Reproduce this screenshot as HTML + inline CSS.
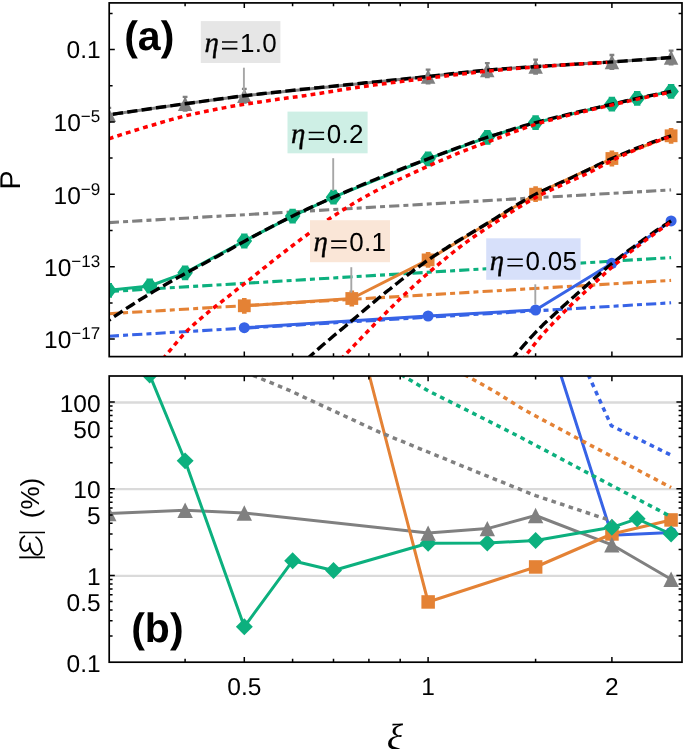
<!DOCTYPE html>
<html><head><meta charset="utf-8"><title>chart</title>
<style>
html,body{margin:0;padding:0;background:#fff;}
body{width:685px;height:749px;overflow:hidden;}
svg{display:block;will-change:transform;}
text{font-family:"Liberation Sans",sans-serif;fill:#000;text-rendering:geometricPrecision;}
.tk{font-size:24.5px;}
.sup{font-size:17px;}
.lab{font-size:26px;letter-spacing:0.25px;}
.eta{font-family:"Liberation Serif",serif;font-style:italic;font-size:29px;stroke:#000;stroke-width:0.35px;}
.tag{font-size:41px;font-weight:bold;}
.ylab{font-size:28.6px;}
.xi{font-family:"Liberation Serif",serif;font-style:italic;font-size:38px;}
.pc{font-size:26px;}
</style></head><body>
<svg width="685" height="749" viewBox="0 0 685 749">
<rect width="685" height="749" fill="#ffffff"/>
<defs>
<clipPath id="ca"><rect x="109.2" y="2.9" width="572.8" height="353.70000000000005"/></clipPath>
<clipPath id="cb"><rect x="109.2" y="376.0" width="572.8" height="286.20000000000005"/></clipPath>
</defs>
<g clip-path="url(#ca)">
<path d="M108.8 222.6 L671.1 189.9" fill="none" stroke="#808080" stroke-width="3.1" stroke-linecap="butt" stroke-linejoin="round" stroke-dasharray="10.2 4.1 5 4.1"/>
<path d="M108.8 291.5 L671.1 257.6" fill="none" stroke="#0cb07e" stroke-width="3.1" stroke-linecap="butt" stroke-linejoin="round" stroke-dasharray="10.2 4.1 5 4.1"/>
<path d="M108.8 313.7 L671.1 280.4" fill="none" stroke="#e48235" stroke-width="3.1" stroke-linecap="butt" stroke-linejoin="round" stroke-dasharray="10.2 4.1 5 4.1"/>
<path d="M108.8 336.2 L671.1 302.8" fill="none" stroke="#3763e6" stroke-width="3.1" stroke-linecap="butt" stroke-linejoin="round" stroke-dasharray="10.2 4.1 5 4.1"/>
<path d="M108.8 114.8 L185.1 103.8 L244.3 95.8 L428.1 76.5 L487.3 70.1 L535.6 66.6 L611.9 61.9 L671.1 57.5" fill="none" stroke="#808080" stroke-width="3.0" stroke-linecap="butt" stroke-linejoin="round"/>
<path d="M108.8 107.9 V121.7 M106.4 107.9 H111.2 M106.4 121.7 H111.2" stroke="#808080" stroke-width="2.3" fill="none"/>
<path d="M108.8 107.5 L101.6 122.0 L116.1 122.0 Z" fill="#808080"/>
<path d="M185.1 96.9 V110.7 M182.7 96.9 H187.5 M182.7 110.7 H187.5" stroke="#808080" stroke-width="2.3" fill="none"/>
<path d="M185.1 96.5 L177.9 111.0 L192.4 111.0 Z" fill="#808080"/>
<path d="M244.3 88.9 V102.7 M241.9 88.9 H246.7 M241.9 102.7 H246.7" stroke="#808080" stroke-width="2.3" fill="none"/>
<path d="M244.3 88.5 L237.1 103.0 L251.6 103.0 Z" fill="#808080"/>
<path d="M428.1 69.6 V83.4 M425.7 69.6 H430.5 M425.7 83.4 H430.5" stroke="#808080" stroke-width="2.3" fill="none"/>
<path d="M428.1 69.2 L420.9 83.8 L435.4 83.8 Z" fill="#808080"/>
<path d="M487.3 63.2 V77.0 M484.9 63.2 H489.7 M484.9 77.0 H489.7" stroke="#808080" stroke-width="2.3" fill="none"/>
<path d="M487.3 62.8 L480.0 77.3 L494.5 77.3 Z" fill="#808080"/>
<path d="M535.6 59.7 V73.5 M533.2 59.7 H538.0 M533.2 73.5 H538.0" stroke="#808080" stroke-width="2.3" fill="none"/>
<path d="M535.6 59.3 L528.4 73.8 L542.9 73.8 Z" fill="#808080"/>
<path d="M611.9 55.0 V68.8 M609.5 55.0 H614.3 M609.5 68.8 H614.3" stroke="#808080" stroke-width="2.3" fill="none"/>
<path d="M611.9 54.6 L604.7 69.2 L619.2 69.2 Z" fill="#808080"/>
<path d="M671.1 50.6 V64.4 M668.7 50.6 H673.5 M668.7 64.4 H673.5" stroke="#808080" stroke-width="2.3" fill="none"/>
<path d="M671.1 50.2 L663.8 64.8 L678.3 64.8 Z" fill="#808080"/>
<path d="M108.8 290.3 L149.7 286.0 L185.1 272.8 L244.3 241.0 L292.6 216.1 L333.5 197.2 L428.1 158.8 L487.3 137.3 L535.6 122.6 L611.9 104.2 L637.2 98.4 L671.1 91.4" fill="none" stroke="#0cb07e" stroke-width="3.0" stroke-linecap="butt" stroke-linejoin="round"/>
<path d="M101.0 290.3 L105.6 284.1 L105.6 282.9 L112.0 282.9 L112.0 284.1 L116.6 290.3 L112.0 296.5 L112.0 297.7 L105.6 297.7 L105.6 296.5 Z" fill="#0cb07e"/>
<path d="M141.9 286.0 L146.5 279.8 L146.5 278.6 L152.9 278.6 L152.9 279.8 L157.5 286.0 L152.9 292.2 L152.9 293.4 L146.5 293.4 L146.5 292.2 Z" fill="#0cb07e"/>
<path d="M177.3 272.8 L181.9 266.6 L181.9 265.4 L188.3 265.4 L188.3 266.6 L192.9 272.8 L188.3 279.0 L188.3 280.2 L181.9 280.2 L181.9 279.0 Z" fill="#0cb07e"/>
<path d="M236.5 241.0 L241.1 234.8 L241.1 233.6 L247.5 233.6 L247.5 234.8 L252.1 241.0 L247.5 247.2 L247.5 248.4 L241.1 248.4 L241.1 247.2 Z" fill="#0cb07e"/>
<path d="M284.8 216.1 L289.4 209.9 L289.4 208.7 L295.8 208.7 L295.8 209.9 L300.4 216.1 L295.8 222.3 L295.8 223.5 L289.4 223.5 L289.4 222.3 Z" fill="#0cb07e"/>
<path d="M325.7 197.2 L330.3 191.0 L330.3 189.8 L336.7 189.8 L336.7 191.0 L341.3 197.2 L336.7 203.4 L336.7 204.6 L330.3 204.6 L330.3 203.4 Z" fill="#0cb07e"/>
<path d="M420.3 158.8 L424.9 152.6 L424.9 151.4 L431.3 151.4 L431.3 152.6 L435.9 158.8 L431.3 165.0 L431.3 166.2 L424.9 166.2 L424.9 165.0 Z" fill="#0cb07e"/>
<path d="M479.5 137.3 L484.1 131.1 L484.1 129.9 L490.5 129.9 L490.5 131.1 L495.1 137.3 L490.5 143.5 L490.5 144.7 L484.1 144.7 L484.1 143.5 Z" fill="#0cb07e"/>
<path d="M527.8 122.6 L532.4 116.4 L532.4 115.2 L538.8 115.2 L538.8 116.4 L543.4 122.6 L538.8 128.8 L538.8 130.0 L532.4 130.0 L532.4 128.8 Z" fill="#0cb07e"/>
<path d="M604.1 104.2 L608.7 98.0 L608.7 96.8 L615.1 96.8 L615.1 98.0 L619.7 104.2 L615.1 110.4 L615.1 111.6 L608.7 111.6 L608.7 110.4 Z" fill="#0cb07e"/>
<path d="M629.4 98.4 L634.0 92.2 L634.0 91.0 L640.4 91.0 L640.4 92.2 L645.0 98.4 L640.4 104.6 L640.4 105.8 L634.0 105.8 L634.0 104.6 Z" fill="#0cb07e"/>
<path d="M663.3 91.4 L667.9 85.2 L667.9 84.0 L674.3 84.0 L674.3 85.2 L678.9 91.4 L674.3 97.6 L674.3 98.8 L667.9 98.8 L667.9 97.6 Z" fill="#0cb07e"/>
<path d="M244.3 305.8 L351.8 298.5 L428.1 259.9 L535.6 194.2 L611.9 158.5 L671.1 135.8" fill="none" stroke="#e48235" stroke-width="3.0" stroke-linecap="butt" stroke-linejoin="round"/>
<path d="M244.3 298.9 V312.7 M242.0 298.9 H246.6 M242.0 312.7 H246.6" stroke="#e48235" stroke-width="2.0" fill="none"/>
<rect x="237.9" y="299.4" width="12.8" height="12.8" fill="#e48235"/>
<path d="M351.8 291.6 V305.4 M349.5 291.6 H354.1 M349.5 305.4 H354.1" stroke="#e48235" stroke-width="2.0" fill="none"/>
<rect x="345.4" y="292.1" width="12.8" height="12.8" fill="#e48235"/>
<path d="M428.1 253.0 V266.8 M425.8 253.0 H430.4 M425.8 266.8 H430.4" stroke="#e48235" stroke-width="2.0" fill="none"/>
<rect x="421.7" y="253.5" width="12.8" height="12.8" fill="#e48235"/>
<path d="M535.6 187.3 V201.1 M533.3 187.3 H537.9 M533.3 201.1 H537.9" stroke="#e48235" stroke-width="2.0" fill="none"/>
<rect x="529.2" y="187.8" width="12.8" height="12.8" fill="#e48235"/>
<path d="M611.9 151.6 V165.4 M609.6 151.6 H614.2 M609.6 165.4 H614.2" stroke="#e48235" stroke-width="2.0" fill="none"/>
<rect x="605.5" y="152.1" width="12.8" height="12.8" fill="#e48235"/>
<path d="M671.1 128.9 V142.7 M668.8 128.9 H673.4 M668.8 142.7 H673.4" stroke="#e48235" stroke-width="2.0" fill="none"/>
<rect x="664.7" y="129.4" width="12.8" height="12.8" fill="#e48235"/>
<path d="M244.3 327.7 L428.1 316.0 L535.6 310.0 L611.9 263.3 L671.1 220.9" fill="none" stroke="#3763e6" stroke-width="3.0" stroke-linecap="butt" stroke-linejoin="round"/>
<circle cx="244.3" cy="327.7" r="5.5" fill="#3763e6"/>
<circle cx="428.1" cy="316.0" r="5.5" fill="#3763e6"/>
<circle cx="535.6" cy="310.0" r="5.5" fill="#3763e6"/>
<circle cx="611.9" cy="263.3" r="5.5" fill="#3763e6"/>
<circle cx="671.1" cy="220.9" r="5.5" fill="#3763e6"/>
<path d="M671.1 57.5 L661.5 58.3 L652.0 59.0 L642.5 59.7 L633.0 60.4 L623.4 61.1 L613.9 61.8 L604.4 62.4 L594.8 63.0 L585.3 63.6 L575.8 64.1 L566.2 64.7 L556.7 65.3 L547.2 65.9 L537.7 66.5 L528.1 67.1 L518.6 67.7 L509.1 68.4 L499.5 69.1 L490.0 69.9 L480.5 70.7 L471.0 71.7 L461.4 72.7 L451.9 73.8 L442.4 74.9 L432.8 76.0 L423.3 77.0 L413.8 78.0 L404.3 79.0 L394.7 80.0 L385.2 80.9 L375.7 81.9 L366.1 82.8 L356.6 83.8 L347.1 84.7 L337.5 85.7 L328.0 86.7 L318.5 87.6 L309.0 88.6 L299.4 89.6 L289.9 90.6 L280.4 91.7 L270.8 92.7 L261.3 93.8 L251.8 94.9 L242.3 96.0 L232.7 97.2 L223.2 98.5 L213.7 99.8 L204.1 101.1 L194.6 102.5 L185.1 103.8 L175.6 105.1 L166.0 106.5 L156.5 107.8 L147.0 109.2 L137.4 110.6 L127.9 112.0 L118.4 113.4 L108.8 114.8" fill="none" stroke="#000000" stroke-width="3.4" stroke-linecap="butt" stroke-linejoin="round" stroke-dasharray="10.3 4.2"/>
<path d="M671.1 91.4 L665.4 92.5 L659.7 93.7 L654.1 94.8 L648.4 96.0 L642.7 97.2 L637.0 98.4 L631.3 99.7 L625.7 101.0 L620.0 102.3 L614.3 103.6 L608.6 105.0 L602.9 106.3 L597.3 107.6 L591.6 108.9 L585.9 110.2 L580.2 111.5 L574.5 112.9 L568.9 114.2 L563.2 115.6 L557.5 116.9 L551.8 118.4 L546.1 119.8 L540.5 121.3 L534.8 122.8 L529.1 124.4 L523.4 126.0 L517.7 127.7 L512.1 129.4 L506.4 131.2 L500.7 133.0 L495.0 134.8 L489.3 136.6 L483.7 138.5 L478.0 140.4 L472.3 142.4 L466.6 144.5 L460.9 146.5 L455.3 148.6 L449.6 150.7 L443.9 152.8 L438.2 155.0 L432.5 157.1 L426.9 159.3 L421.2 161.4 L415.5 163.6 L409.8 165.7 L404.1 167.9 L398.5 170.1 L392.8 172.4 L387.1 174.6 L381.4 176.9 L375.8 179.2 L370.1 181.5 L364.4 183.9 L358.7 186.3 L353.0 188.7 L347.4 191.1 L341.7 193.6 L336.0 196.1 L330.3 198.6 L324.6 201.2 L319.0 203.7 L313.3 206.3 L307.6 208.9 L301.9 211.6 L296.2 214.3 L290.6 217.1 L284.9 219.9 L279.2 222.8 L273.5 225.7 L267.8 228.7 L262.2 231.7 L256.5 234.7 L250.8 237.8 L245.1 240.9 L239.4 244.0 L233.8 247.2 L228.1 250.5 L222.4 253.6 L216.7 256.7 L211.0 259.7 L205.4 262.7 L199.7 265.7 L194.0 268.8 L188.3 271.8 L182.6 275.0 L177.0 278.1 L171.3 281.3 L165.6 284.5 L159.9 287.8 L154.2 291.1 L148.6 294.5 L142.9 298.0 L137.2 301.5 L131.5 305.2 L125.8 308.8 L120.2 312.6 L114.5 316.4 L108.8 320.3" fill="none" stroke="#000000" stroke-width="3.4" stroke-linecap="butt" stroke-linejoin="round" stroke-dasharray="10.3 4.2"/>
<path d="M671.1 135.8 L667.4 137.0 L663.6 138.3 L659.9 139.6 L656.1 140.9 L652.4 142.2 L648.6 143.6 L644.9 145.0 L641.1 146.5 L637.4 147.9 L633.6 149.4 L629.9 150.9 L626.1 152.5 L622.4 154.0 L618.6 155.6 L614.9 157.2 L611.1 158.8 L607.4 160.5 L603.6 162.3 L599.9 164.1 L596.1 165.9 L592.4 167.8 L588.6 169.6 L584.9 171.4 L581.1 173.2 L577.4 174.9 L573.6 176.7 L569.9 178.5 L566.1 180.2 L562.4 181.9 L558.6 183.6 L554.9 185.3 L551.1 186.9 L547.4 188.6 L543.7 190.3 L539.9 192.1 L536.2 193.9 L532.4 195.9 L528.7 197.9 L524.9 200.1 L521.2 202.2 L517.4 204.5 L513.7 206.8 L509.9 209.1 L506.2 211.5 L502.4 213.9 L498.7 216.2 L494.9 218.6 L491.2 220.9 L487.4 223.2 L483.7 225.5 L479.9 227.8 L476.2 230.0 L472.4 232.3 L468.7 234.5 L464.9 236.7 L461.2 239.0 L457.4 241.3 L453.7 243.5 L449.9 245.8 L446.2 248.2 L442.4 250.5 L438.7 252.9 L434.9 255.4 L431.2 257.9 L427.4 260.4 L423.7 263.1 L420.0 265.8 L416.2 268.5 L412.5 271.3 L408.7 274.2 L405.0 277.1 L401.2 280.0 L397.5 283.0 L393.7 286.0 L390.0 289.0 L386.2 291.9 L382.5 295.0 L378.7 298.0 L375.0 301.1 L371.2 304.3 L367.5 307.4 L363.7 310.6 L360.0 313.8 L356.2 317.0 L352.5 320.1 L348.7 323.3 L345.0 326.5 L341.2 329.6 L337.5 332.7 L333.7 335.8 L330.0 339.0 L326.2 342.1 L322.5 345.3 L318.7 348.6 L315.0 351.9 L311.2 355.2 L307.5 358.7 L303.7 362.3 L300.0 366.0" fill="none" stroke="#000000" stroke-width="3.4" stroke-linecap="butt" stroke-linejoin="round" stroke-dasharray="10.3 4.2"/>
<path d="M671.1 220.9 L669.0 222.2 L666.9 223.6 L664.8 224.9 L662.7 226.3 L660.6 227.7 L658.5 229.1 L656.4 230.5 L654.3 231.9 L652.2 233.4 L650.1 234.8 L648.0 236.3 L645.9 237.8 L643.8 239.3 L641.7 240.9 L639.6 242.4 L637.5 243.9 L635.4 245.5 L633.3 247.1 L631.2 248.6 L629.0 250.2 L626.9 251.8 L624.8 253.5 L622.7 255.1 L620.6 256.7 L618.5 258.4 L616.4 260.0 L614.3 261.7 L612.2 263.3 L610.1 265.0 L608.0 266.7 L605.9 268.5 L603.8 270.3 L601.7 272.1 L599.6 273.9 L597.5 275.8 L595.4 277.6 L593.3 279.5 L591.2 281.4 L589.1 283.2 L587.0 285.1 L584.9 286.9 L582.8 288.8 L580.7 290.6 L578.6 292.4 L576.5 294.3 L574.4 296.2 L572.3 298.0 L570.2 299.9 L568.1 301.8 L566.0 303.7 L563.9 305.6 L561.8 307.5 L559.7 309.4 L557.6 311.4 L555.5 313.3 L553.4 315.2 L551.3 317.2 L549.2 319.1 L547.1 321.1 L544.9 323.1 L542.8 325.1 L540.7 327.2 L538.6 329.3 L536.5 331.4 L534.4 333.6 L532.3 335.8 L530.2 338.1 L528.1 340.4 L526.0 342.8 L523.9 345.2 L521.8 347.6 L519.7 350.0 L517.6 352.5 L515.5 354.9 L513.4 357.3 L511.3 359.7 L509.2 362.1 L507.1 364.6 L505.0 367.0" fill="none" stroke="#000000" stroke-width="3.4" stroke-linecap="butt" stroke-linejoin="round" stroke-dasharray="10.3 4.2"/>
<path d="M108.8 138.8 L115.1 136.7 L121.4 134.7 L127.7 132.7 L134.0 130.7 L140.4 128.7 L146.7 126.8 L153.0 125.0 L159.3 123.1 L165.6 121.2 L171.9 119.4 L178.2 117.7 L184.5 116.1 L190.8 114.6 L197.1 113.2 L203.5 111.9 L209.8 110.6 L216.1 109.3 L222.4 108.1 L228.7 106.9 L235.0 105.8 L241.3 104.8 L247.6 103.8 L253.9 102.8 L260.2 101.9 L266.6 100.9 L272.9 100.0 L279.2 99.1 L285.5 98.3 L291.8 97.4 L298.1 96.6 L304.4 95.7 L310.7 94.7 L317.0 93.8 L323.3 92.8 L329.7 91.7 L336.0 90.7 L342.3 89.7 L348.6 88.7 L354.9 87.7 L361.2 86.8 L367.5 85.9 L373.8 85.1 L380.1 84.2 L386.4 83.4 L392.8 82.6 L399.1 81.8 L405.4 81.0 L411.7 80.2 L418.0 79.4 L424.3 78.7 L430.6 77.9 L436.9 77.1 L443.2 76.3 L449.5 75.5 L455.9 74.7 L462.2 74.0 L468.5 73.2 L474.8 72.5 L481.1 71.8 L487.4 71.2 L493.7 70.6 L500.0 70.0 L506.3 69.4 L512.6 68.8 L519.0 68.3 L525.3 67.8 L531.6 67.3 L537.9 66.8 L544.2 66.4 L550.5 65.9 L556.8 65.5 L563.1 65.0 L569.4 64.6 L575.7 64.2 L582.1 63.8 L588.4 63.4 L594.7 63.1 L601.0 62.7 L607.3 62.4" fill="none" stroke="#ff0000" stroke-width="3.5" stroke-linecap="butt" stroke-linejoin="round" stroke-dasharray="4.8 4.2"/>
<path d="M157.0 366.0 L162.2 359.8 L167.4 353.6 L172.6 347.3 L177.8 341.0 L183.0 335.1 L188.2 329.8 L193.4 324.9 L198.5 320.4 L203.7 316.0 L208.9 311.7 L214.1 307.5 L219.3 303.5 L224.5 299.4 L229.7 295.3 L234.9 291.2 L240.1 287.1 L245.3 283.0 L250.5 278.8 L255.7 274.6 L260.9 270.4 L266.1 266.3 L271.2 262.1 L276.4 258.0 L281.6 254.0 L286.8 250.0 L292.0 246.0 L297.2 242.1 L302.4 238.2 L307.6 234.4 L312.8 230.5 L318.0 226.7 L323.2 223.0 L328.4 219.4 L333.6 216.0 L338.8 212.6 L343.9 209.4 L349.1 206.2 L354.3 203.0 L359.5 200.0 L364.7 197.0 L369.9 194.1 L375.1 191.3 L380.3 188.6 L385.5 186.0 L390.7 183.4 L395.9 180.9 L401.1 178.5 L406.3 176.1 L411.5 173.7 L416.6 171.3 L421.8 169.0 L427.0 166.7 L432.2 164.3 L437.4 162.0 L442.6 159.8 L447.8 157.6 L453.0 155.4 L458.2 153.2 L463.4 151.1 L468.6 149.1 L473.8 147.1 L479.0 145.2 L484.2 143.3 L489.3 141.4 L494.5 139.5 L499.7 137.5 L504.9 135.5 L510.1 133.4 L515.3 131.4 L520.5 129.5 L525.7 127.6 L530.9 125.8 L536.1 124.2 L541.3 122.6 L546.5 121.1 L551.7 119.7 L556.9 118.3 L562.0 116.9 L567.2 115.6 L572.4 114.3 L577.6 113.0 L582.8 111.8 L588.0 110.6 L593.2 109.3 L598.4 108.1 L603.6 106.9 L608.8 105.7 L614.0 104.5 L619.2 103.3 L624.4 102.1 L629.6 100.9 L634.7 99.8 L639.9 98.6 L645.1 97.5 L650.3 96.4 L655.5 95.3 L660.7 94.2 L665.9 93.1 L671.1 92.0" fill="none" stroke="#ff0000" stroke-width="3.5" stroke-linecap="butt" stroke-linejoin="round" stroke-dasharray="4.8 4.2"/>
<path d="M334.5 366.0 L337.9 362.4 L341.3 358.8 L344.7 355.3 L348.1 351.7 L351.5 348.2 L354.9 344.6 L358.3 341.1 L361.7 337.5 L365.1 334.0 L368.5 330.5 L371.9 327.0 L375.3 323.5 L378.7 320.1 L382.1 316.7 L385.5 313.2 L388.9 309.8 L392.3 306.4 L395.7 303.1 L399.1 299.7 L402.5 296.5 L405.9 293.2 L409.3 290.1 L412.7 286.9 L416.1 283.8 L419.5 280.8 L422.9 277.7 L426.3 274.7 L429.7 271.8 L433.1 268.9 L436.5 266.0 L439.9 263.1 L443.3 260.3 L446.7 257.5 L450.1 254.7 L453.5 252.0 L456.9 249.3 L460.3 246.7 L463.7 244.1 L467.1 241.6 L470.5 239.2 L473.9 236.8 L477.3 234.5 L480.7 232.2 L484.1 229.9 L487.5 227.7 L490.9 225.4 L494.3 223.2 L497.7 220.9 L501.1 218.7 L504.5 216.5 L507.9 214.3 L511.3 212.1 L514.7 209.9 L518.1 207.8 L521.5 205.7 L524.9 203.7 L528.3 201.7 L531.7 199.7 L535.1 197.9 L538.5 196.1 L541.9 194.3 L545.3 192.6 L548.7 191.0 L552.1 189.4 L555.5 187.8 L558.9 186.3 L562.3 184.8 L565.7 183.2 L569.1 181.7 L572.5 180.2 L575.9 178.7 L579.3 177.2 L582.7 175.6 L586.1 174.0 L589.5 172.3 L592.9 170.7 L596.3 168.9 L599.7 167.0 L603.1 165.1 L606.5 163.2 L609.9 161.5 L613.3 159.8 L616.7 158.2 L620.1 156.7 L623.5 155.1 L626.9 153.6 L630.3 152.1 L633.7 150.6 L637.1 149.1 L640.5 147.7 L643.9 146.3 L647.3 144.9 L650.7 143.6 L654.1 142.3 L657.5 141.1 L660.9 139.9 L664.3 138.7 L667.7 137.6 L671.1 136.5" fill="none" stroke="#ff0000" stroke-width="3.5" stroke-linecap="butt" stroke-linejoin="round" stroke-dasharray="4.8 4.2"/>
<path d="M515.5 367.0 L517.5 364.9 L519.4 362.7 L521.4 360.5 L523.4 358.3 L525.3 356.0 L527.3 353.5 L529.3 351.0 L531.3 348.5 L533.2 345.9 L535.2 343.4 L537.2 340.9 L539.1 338.5 L541.1 336.2 L543.1 334.0 L545.0 331.8 L547.0 329.6 L549.0 327.5 L551.0 325.4 L552.9 323.3 L554.9 321.3 L556.9 319.3 L558.8 317.3 L560.8 315.3 L562.8 313.3 L564.7 311.3 L566.7 309.4 L568.7 307.4 L570.6 305.5 L572.6 303.6 L574.6 301.7 L576.6 299.8 L578.5 298.0 L580.5 296.1 L582.5 294.3 L584.4 292.4 L586.4 290.6 L588.4 288.8 L590.3 286.9 L592.3 285.1 L594.3 283.3 L596.3 281.5 L598.2 279.6 L600.2 277.8 L602.2 276.0 L604.1 274.1 L606.1 272.4 L608.1 270.6 L610.0 268.8 L612.0 267.1 L614.0 265.4 L616.0 263.7 L617.9 262.1 L619.9 260.4 L621.9 258.8 L623.8 257.2 L625.8 255.6 L627.8 254.0 L629.7 252.5 L631.7 250.9 L633.7 249.4 L635.6 247.8 L637.6 246.3 L639.6 244.8 L641.6 243.3 L643.5 241.8 L645.5 240.3 L647.5 238.9 L649.4 237.4 L651.4 236.0 L653.4 234.5 L655.3 233.1 L657.3 231.7 L659.3 230.2 L661.3 228.8 L663.2 227.4 L665.2 226.1 L667.2 224.7 L669.1 223.3 L671.1 222.0" fill="none" stroke="#ff0000" stroke-width="3.5" stroke-linecap="butt" stroke-linejoin="round" stroke-dasharray="4.8 4.2"/>
</g>
<path d="M243.9 67.7 V93.4" stroke="#a6a6a6" stroke-width="1.9" fill="none"/>
<rect x="200.8" y="21.1" width="79.6" height="41.9" fill="#e6e6e6"/>
<text x="204.4" y="52.3" class="eta">η</text>
<path d="M222.0 42.0 h15.4 M222.0 48.6 h15.4" stroke="#000" stroke-width="1.6" fill="none"/>
<text x="240.1" y="52.3" class="lab">1.0</text>
<path d="M333.2 158.2 V191" stroke="#a6a6a6" stroke-width="1.9" fill="none"/>
<rect x="287.5" y="111.6" width="80.1" height="41.7" fill="#ceefe5"/>
<text x="291.1" y="142.8" class="eta">η</text>
<path d="M308.7 132.5 h15.4 M308.7 139.1 h15.4" stroke="#000" stroke-width="1.6" fill="none"/>
<text x="326.8" y="142.8" class="lab">0.2</text>
<path d="M351.3 267.2 V292.6" stroke="#a6a6a6" stroke-width="1.9" fill="none"/>
<rect x="310.0" y="220.2" width="80.0" height="42.0" fill="#fae6d7"/>
<text x="313.6" y="251.4" class="eta">η</text>
<path d="M331.2 241.1 h15.4 M331.2 247.7 h15.4" stroke="#000" stroke-width="1.6" fill="none"/>
<text x="349.3" y="251.4" class="lab">0.1</text>
<path d="M535.3 284.3 V304.5" stroke="#a6a6a6" stroke-width="1.9" fill="none"/>
<rect x="486.2" y="238.3" width="94.4" height="41.5" fill="#d7e0fa"/>
<text x="489.8" y="269.5" class="eta">η</text>
<path d="M507.4 259.2 h15.4 M507.4 265.8 h15.4" stroke="#000" stroke-width="1.6" fill="none"/>
<text x="525.5" y="269.5" class="lab">0.05</text>
<path d="M109.2 402.5 H682.0" stroke="#dadada" stroke-width="2.3" fill="none"/>
<path d="M109.2 489.2 H682.0" stroke="#dadada" stroke-width="2.3" fill="none"/>
<path d="M109.2 575.9 H682.0" stroke="#dadada" stroke-width="2.3" fill="none"/>
<g clip-path="url(#cb)">
<path d="M108.8 513.5 L185.1 510.2 L244.3 513.0 L428.1 533.1 L487.3 528.6 L535.6 515.5 L611.9 544.8 L671.1 579.3" fill="none" stroke="#808080" stroke-width="3.0" stroke-linecap="butt" stroke-linejoin="round"/>
<path d="M535.6 296.0 L611.9 535.3 L671.1 532.6" fill="none" stroke="#3763e6" stroke-width="3.0" stroke-linecap="butt" stroke-linejoin="round"/>
<path d="M351.8 308.0 L428.1 602.0 L535.6 567.0 L611.9 534.0 L671.1 520.0" fill="none" stroke="#e48235" stroke-width="3.0" stroke-linecap="butt" stroke-linejoin="round"/>
<path d="M108.8 250.0 L149.7 375.0 L185.1 460.8 L244.3 626.8 L292.6 560.8 L333.5 570.5 L428.1 543.3 L487.3 543.0 L535.6 540.4 L611.9 527.3 L637.2 518.8 L671.1 534.0" fill="none" stroke="#0cb07e" stroke-width="3.0" stroke-linecap="butt" stroke-linejoin="round"/>
<circle cx="535.6" cy="296.0" r="5.7" fill="#3763e6"/>
<circle cx="611.9" cy="535.3" r="5.7" fill="#3763e6"/>
<circle cx="671.1" cy="532.6" r="5.7" fill="#3763e6"/>
<rect x="345.1" y="301.2" width="13.5" height="13.5" fill="#e48235"/>
<rect x="421.4" y="595.2" width="13.5" height="13.5" fill="#e48235"/>
<rect x="528.9" y="560.2" width="13.5" height="13.5" fill="#e48235"/>
<rect x="605.2" y="527.2" width="13.5" height="13.5" fill="#e48235"/>
<rect x="664.3" y="513.2" width="13.5" height="13.5" fill="#e48235"/>
<path d="M108.8 241.6 L117.3 250.0 L108.8 258.4 L100.4 250.0 Z" fill="#0cb07e"/>
<path d="M149.7 366.6 L158.2 375.0 L149.7 383.4 L141.3 375.0 Z" fill="#0cb07e"/>
<path d="M185.1 452.4 L193.6 460.8 L185.1 469.2 L176.7 460.8 Z" fill="#0cb07e"/>
<path d="M244.3 618.3 L252.8 626.8 L244.3 635.2 L235.9 626.8 Z" fill="#0cb07e"/>
<path d="M292.6 552.3 L301.1 560.8 L292.6 569.2 L284.2 560.8 Z" fill="#0cb07e"/>
<path d="M333.5 562.0 L342.0 570.5 L333.5 579.0 L325.1 570.5 Z" fill="#0cb07e"/>
<path d="M428.1 534.8 L436.6 543.3 L428.1 551.8 L419.7 543.3 Z" fill="#0cb07e"/>
<path d="M487.3 534.5 L495.7 543.0 L487.3 551.5 L478.8 543.0 Z" fill="#0cb07e"/>
<path d="M535.6 531.9 L544.1 540.4 L535.6 548.9 L527.2 540.4 Z" fill="#0cb07e"/>
<path d="M611.9 518.8 L620.4 527.3 L611.9 535.8 L603.5 527.3 Z" fill="#0cb07e"/>
<path d="M637.2 510.3 L645.6 518.8 L637.2 527.2 L628.7 518.8 Z" fill="#0cb07e"/>
<path d="M671.1 525.5 L679.5 534.0 L671.1 542.5 L662.6 534.0 Z" fill="#0cb07e"/>
<path d="M108.8 505.8 L101.1 521.2 L116.5 521.2 Z" fill="#808080"/>
<path d="M185.1 502.5 L177.4 517.9 L192.8 517.9 Z" fill="#808080"/>
<path d="M244.3 505.3 L236.6 520.7 L252.0 520.7 Z" fill="#808080"/>
<path d="M428.1 525.4 L420.4 540.8 L435.8 540.8 Z" fill="#808080"/>
<path d="M487.3 520.9 L479.6 536.3 L495.0 536.3 Z" fill="#808080"/>
<path d="M535.6 507.8 L527.9 523.2 L543.3 523.2 Z" fill="#808080"/>
<path d="M611.9 537.1 L604.2 552.5 L619.6 552.5 Z" fill="#808080"/>
<path d="M671.1 571.6 L663.4 587.0 L678.8 587.0 Z" fill="#808080"/>
<path d="M588.2 374.6 L611.2 425.6 L671.1 455.2" fill="none" stroke="#3763e6" stroke-width="3.5" stroke-linecap="butt" stroke-linejoin="round" stroke-dasharray="4.6 4.4"/>
<path d="M464.4 374.6 L494.0 391.0 L521.2 408.0 L535.6 416.0 L580.2 439.8 L611.9 456.5 L671.1 487.5" fill="none" stroke="#e48235" stroke-width="3.5" stroke-linecap="butt" stroke-linejoin="round" stroke-dasharray="4.6 4.4"/>
<path d="M401.0 374.6 L428.2 390.8 L467.6 410.5 L520.0 437.0 L589.8 474.0 L671.1 516.7" fill="none" stroke="#0cb07e" stroke-width="3.5" stroke-linecap="butt" stroke-linejoin="round" stroke-dasharray="4.6 4.4"/>
<path d="M253.0 375.3 L290.0 390.7 L380.0 432.4 L428.1 452.0 L487.3 476.2 L535.6 495.6 L611.9 521.0" fill="none" stroke="#808080" stroke-width="3.5" stroke-linecap="butt" stroke-linejoin="round" stroke-dasharray="4.6 4.4"/>
</g>
<path d="M244.3 2.9 v5.2 M244.3 356.6 v-5.2 M428.1 2.9 v5.2 M428.1 356.6 v-5.2 M611.9 2.9 v5.2 M611.9 356.6 v-5.2 M185.1 2.9 v3.4 M185.1 356.6 v-3.4 M292.6 2.9 v3.4 M292.6 356.6 v-3.4 M333.5 2.9 v3.4 M333.5 356.6 v-3.4 M368.9 2.9 v3.4 M368.9 356.6 v-3.4 M400.2 2.9 v3.4 M400.2 356.6 v-3.4 M535.6 2.9 v3.4 M535.6 356.6 v-3.4" stroke="#000" stroke-width="1.5" fill="none"/>
<path d="M244.3 376.0 v5.2 M244.3 662.2 v-5.2 M428.1 376.0 v5.2 M428.1 662.2 v-5.2 M611.9 376.0 v5.2 M611.9 662.2 v-5.2 M185.1 376.0 v3.4 M185.1 662.2 v-3.4 M292.6 376.0 v3.4 M292.6 662.2 v-3.4 M333.5 376.0 v3.4 M333.5 662.2 v-3.4 M368.9 376.0 v3.4 M368.9 662.2 v-3.4 M400.2 376.0 v3.4 M400.2 662.2 v-3.4 M535.6 376.0 v3.4 M535.6 662.2 v-3.4" stroke="#000" stroke-width="1.5" fill="none"/>
<path d="M109.2 49.6 h5.6 M682.0 49.6 h-5.6 M109.2 122.0 h5.6 M682.0 122.0 h-5.6 M109.2 194.3 h5.6 M682.0 194.3 h-5.6 M109.2 266.7 h5.6 M682.0 266.7 h-5.6 M109.2 339.0 h5.6 M682.0 339.0 h-5.6 M109.2 13.4 h3.4 M682.0 13.4 h-3.4 M109.2 85.8 h3.4 M682.0 85.8 h-3.4 M109.2 158.1 h3.4 M682.0 158.1 h-3.4 M109.2 230.5 h3.4 M682.0 230.5 h-3.4 M109.2 302.9 h3.4 M682.0 302.9 h-3.4" stroke="#000" stroke-width="1.5" fill="none"/>
<path d="M109.2 402.1 h5.6 M682.0 402.1 h-5.6 M109.2 488.8 h5.6 M682.0 488.8 h-5.6 M109.2 575.5 h5.6 M682.0 575.5 h-5.6 M109.2 636.1 h3.4 M682.0 636.1 h-3.4 M109.2 620.8 h3.4 M682.0 620.8 h-3.4 M109.2 610.0 h3.4 M682.0 610.0 h-3.4 M109.2 601.6 h3.4 M682.0 601.6 h-3.4 M109.2 594.7 h3.4 M682.0 594.7 h-3.4 M109.2 588.9 h3.4 M682.0 588.9 h-3.4 M109.2 583.9 h3.4 M682.0 583.9 h-3.4 M109.2 579.5 h3.4 M682.0 579.5 h-3.4 M109.2 549.4 h3.4 M682.0 549.4 h-3.4 M109.2 534.1 h3.4 M682.0 534.1 h-3.4 M109.2 523.3 h3.4 M682.0 523.3 h-3.4 M109.2 514.9 h3.4 M682.0 514.9 h-3.4 M109.2 508.0 h3.4 M682.0 508.0 h-3.4 M109.2 502.2 h3.4 M682.0 502.2 h-3.4 M109.2 497.2 h3.4 M682.0 497.2 h-3.4 M109.2 492.8 h3.4 M682.0 492.8 h-3.4 M109.2 462.7 h3.4 M682.0 462.7 h-3.4 M109.2 447.4 h3.4 M682.0 447.4 h-3.4 M109.2 436.6 h3.4 M682.0 436.6 h-3.4 M109.2 428.2 h3.4 M682.0 428.2 h-3.4 M109.2 421.3 h3.4 M682.0 421.3 h-3.4 M109.2 415.5 h3.4 M682.0 415.5 h-3.4 M109.2 410.5 h3.4 M682.0 410.5 h-3.4 M109.2 406.1 h3.4 M682.0 406.1 h-3.4" stroke="#000" stroke-width="1.5" fill="none"/>
<rect x="109.2" y="2.9" width="572.8" height="353.70000000000005" fill="none" stroke="#000" stroke-width="1.7"/>
<rect x="109.2" y="376.0" width="572.8" height="286.20000000000005" fill="none" stroke="#000" stroke-width="1.7"/>
<text x="244.3" y="694.6" class="tk" text-anchor="middle">0.5</text>
<text x="428.1" y="694.6" class="tk" text-anchor="middle">1</text>
<text x="611.9" y="694.6" class="tk" text-anchor="middle">2</text>
<text x="100.6" y="411.5" class="tk" text-anchor="end">100</text>
<text x="100.6" y="437.6" class="tk" text-anchor="end">50</text>
<text x="100.6" y="498.2" class="tk" text-anchor="end">10</text>
<text x="100.6" y="524.3" class="tk" text-anchor="end">5</text>
<text x="100.6" y="584.9" class="tk" text-anchor="end">1</text>
<text x="100.6" y="611.0" class="tk" text-anchor="end">0.5</text>
<text x="100.6" y="671.6" class="tk" text-anchor="end">0.1</text>
<text x="100.6" y="58.4" class="tk" text-anchor="end">0.1</text>
<text x="100.2" y="131.4" class="tk" text-anchor="end">10<tspan class="sup" dy="-9.2">−5</tspan></text>
<text x="100.2" y="203.7" class="tk" text-anchor="end">10<tspan class="sup" dy="-9.2">−9</tspan></text>
<text x="100.2" y="276.1" class="tk" text-anchor="end">10<tspan class="sup" dy="-9.2">−13</tspan></text>
<text x="100.2" y="348.4" class="tk" text-anchor="end">10<tspan class="sup" dy="-9.2">−17</tspan></text>
<text x="124.2" y="50.4" class="tag">(a)</text>
<text x="131.2" y="642.4" class="tag">(b)</text>
<text transform="translate(19.9 179.9) rotate(-90)" class="ylab" text-anchor="middle">P</text>
<g transform="translate(40.6 518.5) rotate(-90)">
<text x="0.3" y="-1.2" class="pc">(%)</text>
<path d="M-38.9 -21.4 V4.4 M-14 -21.4 V4.4" stroke="#000" stroke-width="1.7" fill="none"/>
<g transform="translate(-27 -9.4) scale(1.1) translate(27 9.4)">
<path d="M-18.6 -15.6 C-20.5 -19.2 -25.2 -20.2 -29.0 -18.6 C-32.6 -17.0 -33.0 -12.6 -28.6 -10.9 C-27.3 -10.4 -25.8 -10.4 -24.6 -10.8 C-29.5 -10.9 -34.6 -8.6 -35.4 -4.6 C-36.1 -0.9 -32.4 0.6 -28.6 0.2 C-24.8 -0.2 -21.4 -2.2 -19.4 -5.0" stroke="#000" stroke-width="1.6" fill="none" stroke-linecap="round"/>
</g>
</g>
<text x="395.0" y="750.3" class="xi" text-anchor="middle">ξ</text>
</svg>
</body></html>
